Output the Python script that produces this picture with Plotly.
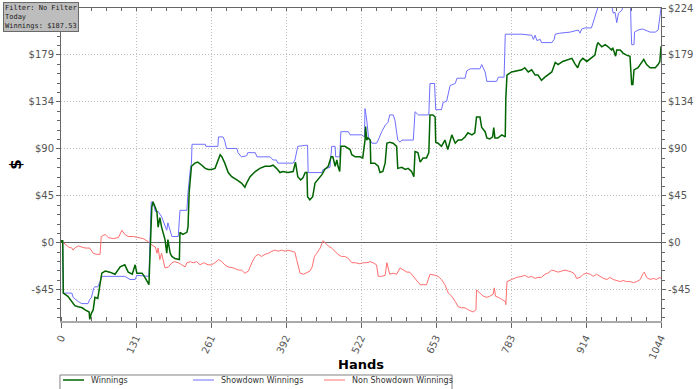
import plotly.graph_objects as go

# ---------------- data ----------------
win_hands = [0, 1, 3, 4, 12, 19, 24, 30, 37, 42, 47, 49, 50, 53, 56, 59, 64, 68, 71, 77, 85, 94, 103, 111, 117, 124, 129, 132, 141, 146, 153,
             158, 160, 164, 167, 169, 172, 175, 177, 181, 184, 186, 190, 193, 198, 204, 206, 207, 212, 219, 221, 223, 227, 233, 238, 245,
             251, 256, 262, 268, 271, 277, 280, 285, 291, 297, 306, 314, 320, 323, 329, 338, 346, 355, 364, 369, 375, 381, 386, 395, 404,
             408, 412, 417, 421, 425, 428, 429, 433, 438, 442, 447, 454, 459, 465, 470, 473, 477, 480, 482, 485, 487, 494, 503, 506, 512,
             520, 525, 529, 530, 532, 534, 538, 539, 546, 552, 555, 560, 564, 567, 572, 578, 584, 586, 593, 599, 604, 610, 614, 616, 621,
             625, 630, 636, 640, 642, 647, 651, 652, 656, 662, 668, 673, 680, 686, 691, 697, 703, 708, 715, 720, 723, 729, 732, 738, 741,
             746, 751, 753, 755, 760, 767, 773, 774, 776, 784, 793, 802, 807, 813, 819, 825, 830, 836, 842, 847, 854, 860, 865, 873, 882,
             889, 894, 899, 903, 908, 915, 923, 929, 932, 934, 941, 947, 952, 958, 960, 965, 967, 973, 978, 984, 990, 993, 995, 997, 1004,
             1011, 1014, 1019, 1025, 1034, 1039, 1042, 1044]
win_values = [0, 2, 2, -48, -51, -56, -60, -61, -62, -64, -66, -66, -73, -67, -64, -52, -53, -40, -29, -27, -28, -30, -23, -21, -28, -30, -21, -29, -29, -33, -40,
              34, 39, 34, 29, 15, 24, 15, 10, 3, -10, 3, -10, -13, -15, -16, -16, 10, 8, 10, 15, 48, 73, 76, 77, 74,
              71, 70, 70, 71, 76, 84, 82, 76, 67, 63, 60, 57, 53, 57, 63, 68, 71, 73, 73, 74, 71, 67, 68, 67, 68,
              77, 63, 60, 62, 67, 67, 44, 41, 44, 57, 60, 65, 70, 73, 82, 82, 73, 79, 73, 68, 92, 92, 89, 84, 82,
              82, 81, 98, 111, 98, 100, 98, 76, 76, 73, 67, 68, 76, 95, 96, 95, 92, 71, 72, 70, 71, 68, 63, 87, 86,
              77, 81, 81, 86, 122, 122, 120, 96, 95, 92, 98, 89, 103, 95, 98, 98, 101, 105, 103, 105, 120, 120, 110, 106, 100,
              99, 101, 110, 100, 100, 103, 101, 138, 160, 163, 164, 165, 167, 163, 165, 160, 160, 155, 158, 160, 163, 172, 170, 173, 175,
              176, 171, 167, 173, 176, 173, 176, 179, 187, 191, 187, 189, 187, 184, 186, 178, 184, 184, 181, 179, 178, 151, 151, 165, 167,
              173, 175, 170, 167, 167, 170, 173, 187.53]

sd_hands = [0, 1, 3, 4, 19, 21, 30, 36, 47, 50, 53, 57, 59, 64, 68, 70, 73, 111, 120, 129, 132, 153, 157, 160, 164, 169, 175, 177, 184,
            186, 190, 193, 204, 207, 219, 221, 225, 227, 228, 251, 252, 273, 274, 282, 285, 288, 306, 308, 314, 323, 325, 338, 341, 364,
            369, 375, 377, 404, 407, 410, 412, 425, 429, 430, 454, 456, 462, 468, 471, 477, 478, 485, 487, 500, 503, 523, 528, 529, 532,
            535, 541, 549, 552, 558, 564, 569, 572, 578, 581, 586, 590, 593, 613, 616, 622, 640, 642, 650, 652, 662, 665, 671, 677, 686,
            689, 703, 706, 712, 729, 732, 738, 741, 758, 761, 771, 773, 802, 819, 822, 825, 828, 834, 836, 854, 858, 860, 868, 886, 900,
            903, 906, 912, 923, 926, 929, 932, 935, 958, 961, 964, 967, 970, 976, 978, 991, 992, 993, 997, 998, 1004, 1012, 1025, 1034,
            1039, 1042, 1044]
sd_values = [0, 2, 2, -48, -48, -52, -56, -58, -58, -54, -52, -43, -42, -42, -37, -33, -32, -32, -35, -35, -31, -32, 39, 39, 30, 30, 25, 22, 12,
             19, 10, 6, 6, 31, 31, 48, 70, 76, 94, 94, 92, 92, 101, 101, 97, 90, 90, 86, 82, 83, 86, 86, 82, 82,
             79, 79, 76, 76, 79, 89, 92, 93, 93, 67, 67, 70, 71, 72, 92, 92, 82, 82, 106, 106, 103, 103, 101, 128, 117,
             101, 95, 95, 98, 106, 112, 115, 122, 122, 117, 98, 96, 98, 98, 125, 122, 122, 152, 152, 127, 127, 134, 135, 150, 152,
             157, 157, 164, 166, 166, 170, 163, 154, 154, 158, 158, 199, 199, 198, 194, 198, 193, 194, 191, 191, 194, 199, 200, 201, 203,
             200, 204, 205, 205, 210, 215, 222, 226, 226, 219, 220, 210, 219, 222, 226, 226, 203, 189, 189, 201, 203, 204, 201, 201,
             203, 219, 224]

nsd_hands = [0, 1, 4, 7, 13, 19, 21, 24, 30, 36, 42, 50, 56, 62, 68, 70, 77, 82, 91, 100, 106, 111, 117, 126, 134, 143, 152, 158, 164,
             167, 169, 172, 175, 178, 181, 187, 193, 198, 204, 210, 216, 219, 225, 230, 236, 242, 248, 256, 262, 268, 274, 280, 285, 291,
             300, 309, 314, 320, 326, 332, 338, 343, 349, 355, 361, 367, 372, 378, 384, 390, 395, 401, 407, 410, 413, 416, 422, 428, 433,
             437, 441, 445, 451, 456, 459, 465, 471, 477, 482, 488, 494, 500, 506, 512, 520, 526, 532, 538, 543, 549, 552, 558, 564, 567,
             569, 572, 578, 584, 590, 596, 602, 607, 613, 619, 625, 630, 636, 639, 642, 651, 656, 662, 668, 674, 680, 686, 691, 697, 703,
             709, 715, 717, 722, 723, 729, 735, 741, 746, 752, 754, 756, 761, 767, 773, 774, 776, 784, 793, 802, 807, 813, 819, 825, 830,
             836, 842, 847, 854, 860, 865, 871, 877, 883, 889, 894, 897, 903, 909, 915, 921, 926, 932, 938, 944, 950, 955, 961, 967, 973,
             978, 984, 990, 996, 1002, 1008, 1012, 1015, 1019, 1025, 1031, 1036, 1042, 1044]
nsd_values = [0, 2, 0, -1, -4, -5, -7, -5, -3, -4, -5, -5, -10, -11, -11, 6, 8, 5, 4, 5, 12, 8, 6, 6, 5, 4, 1, -2, -4,
              -10, -5, -16, -10, -18, -24, -23, -19, -18, -19, -21, -23, -19, -18, -19, -18, -21, -19, -21, -21, -19, -16, -18, -21, -23,
              -24, -26, -26, -29, -27, -19, -13, -11, -13, -11, -10, -8, -7, -8, -7, -8, -7, -8, -9, -16, -24, -29, -30, -28, -27,
              -23, -13, -10, -5, 2, 0, -3, -5, -8, -11, -13, -13, -15, -19, -19, -20, -19, -19, -18, -19, -21, -32, -32, -31, -19,
              -23, -30, -29, -30, -24, -26, -28, -28, -32, -35, -40, -40, -40, -35, -30, -31, -32, -35, -40, -48, -51, -56, -61, -62, -62,
              -64, -65, -66, -64, -45, -48, -51, -52, -51, -49, -43, -51, -52, -54, -56, -59, -37, -35, -33, -32, -31, -33, -32, -34, -33,
              -33, -30, -29, -26, -27, -28, -27, -26, -27, -28, -30, -34, -33, -30, -29, -30, -32, -30, -32, -34, -35, -33, -35, -36, -37,
              -36, -37, -37, -38, -37, -35, -30, -28, -33, -35, -34, -35, -33, -34]

x_tickvals = [0, 130.5, 261, 391.5, 522, 652.5, 783, 913.5, 1044]
x_ticktext = ["0", "131", "261", "392", "522", "653", "783", "914", "1044"]
y_tickvals = [-44.8, 0, 44.8, 89.6, 134.4, 179.2, 224]
y_ticktext = ["-$45", "$0", "$45", "$90", "$134", "$179", "$224"]
y_ticktext_left = ["-$45", "$0", "$45", "$90", "$134", "$179", ""]  # $224 hidden under the info box
x_range = [0, 1044]
y_range = [-74.6, 224]

series_names = ["Winnings", "Showdown Winnings", "Non Showdown Winnings"]
series_colors = ["#006400", "#6f6fff", "#ff6e6e"]

FONT = "DejaVu Sans"
TICKFONT = dict(family=FONT, size=10, color="#555555")

fig = go.Figure()
fig.add_trace(go.Scatter(x=nsd_hands, y=nsd_values, name=series_names[2], mode="lines",
                         line=dict(color=series_colors[2], width=1), hoverinfo="skip"))
fig.add_trace(go.Scatter(x=sd_hands, y=sd_values, name=series_names[1], mode="lines",
                         line=dict(color=series_colors[1], width=1), hoverinfo="skip"))
fig.add_trace(go.Scatter(x=win_hands, y=win_values, name=series_names[0], mode="lines",
                         line=dict(color=series_colors[0], width=1.5), hoverinfo="skip"))
# invisible helper trace so the mirrored (top/right) axes are drawn
fig.add_trace(go.Scatter(x=win_hands, y=win_values, xaxis="x2", yaxis="y2", mode="lines",
                         line=dict(width=0, color="rgba(0,0,0,0)"), showlegend=False, hoverinfo="skip"))

GRID = dict(showgrid=True, gridcolor="#c0c0c0", griddash="1px,2px", gridwidth=1)

fig.update_layout(
    width=700, height=389, autosize=False,
    margin=dict(l=61, r=39, t=8, b=68),
    paper_bgcolor="white", plot_bgcolor="white",
    font=dict(family=FONT, size=10, color="#333333"),
    showlegend=False,
    xaxis=dict(
        range=x_range, tickmode="array", tickvals=x_tickvals, ticktext=x_ticktext,
        tickangle=-65, tickfont=TICKFONT,
        showline=True, linecolor="#aaaaaa", linewidth=2,
        ticks="outside", ticklen=5, tickcolor="#666666",
        minor=dict(tick0=0, dtick=26.1, ticks="inside", ticklen=4, tickcolor="#666666", showgrid=False),
        zeroline=False, automargin=False,
        title=dict(text="<b>Hands</b>", font=dict(family=FONT, size=13, color="#000000"), standoff=0),
        **GRID,
    ),
    yaxis=dict(
        range=y_range, tickmode="array", tickvals=y_tickvals, ticktext=y_ticktext_left,
        tickfont=TICKFONT,
        showline=True, linecolor="#666666", linewidth=1,
        ticks="outside", ticklen=4, tickcolor="#666666",
        minor=dict(tick0=0, dtick=8.96, ticks="outside", ticklen=3, tickcolor="#666666", showgrid=False),
        zeroline=True, zerolinecolor="#666666", zerolinewidth=1, automargin=False,
        title=dict(text="<b>$</b>", font=dict(family=FONT, size=15, color="#000000"), standoff=3),
        **GRID,
    ),
    xaxis2=dict(
        overlaying="x", side="top", range=x_range, showticklabels=False,
        showline=True, linecolor="#666666", linewidth=1,
        tickmode="array", tickvals=x_tickvals, ticks="inside", ticklen=3, tickcolor="#666666",
        minor=dict(tick0=0, dtick=26.1, ticks="inside", ticklen=3, tickcolor="#666666", showgrid=False),
        showgrid=False, zeroline=False,
    ),
    yaxis2=dict(
        overlaying="y", side="right", range=y_range, tickmode="array",
        tickvals=y_tickvals, ticktext=y_ticktext, tickfont=TICKFONT,
        showline=True, linecolor="#666666", linewidth=1,
        ticks="outside", ticklen=4, tickcolor="#666666",
        minor=dict(tick0=0, dtick=8.96, ticks="outside", ticklen=3, tickcolor="#666666", showgrid=False),
        showgrid=False, zeroline=False, automargin=False,
    ),
)

# ---- legend box (drawn in paper space, below the plot, cut by the page edge as in the original) ----
fig.add_shape(type="rect", xref="paper", yref="paper", x0=-0.0017, x1=0.6517, y0=-0.1725, y1=-0.2236,
              line=dict(color="#808080", width=1), fillcolor="rgba(0,0,0,0)", layer="above")
legend_x = [0.0033, 0.22, 0.4383]
legend_y = -0.1885
for name, color, lx in zip(series_names, series_colors, legend_x):
    fig.add_shape(type="line", xref="paper", yref="paper", x0=lx, x1=lx + 0.035, y0=legend_y, y1=legend_y,
                  line=dict(color=color, width=1.5 if name == "Winnings" else 1))
    fig.add_annotation(xref="paper", yref="paper", x=lx + 0.043, y=legend_y, xanchor="left", yanchor="middle",
                       text=name, showarrow=False, font=dict(family=FONT, size=8, color="#333333"))

fig.add_annotation(
    xref="paper", yref="paper", x=-0.0967, y=1.019, xanchor="left", yanchor="top",
    text="Filter: No Filter<br>Today<br>Winnings: $187.53", showarrow=False, align="left",
    font=dict(family="DejaVu Sans Mono", size=7, color="#1a1a1a"),
    bgcolor="#bdbdbd", bordercolor="#6a6a6a", borderwidth=1, borderpad=1,
)

fig.write_html("out.html")
